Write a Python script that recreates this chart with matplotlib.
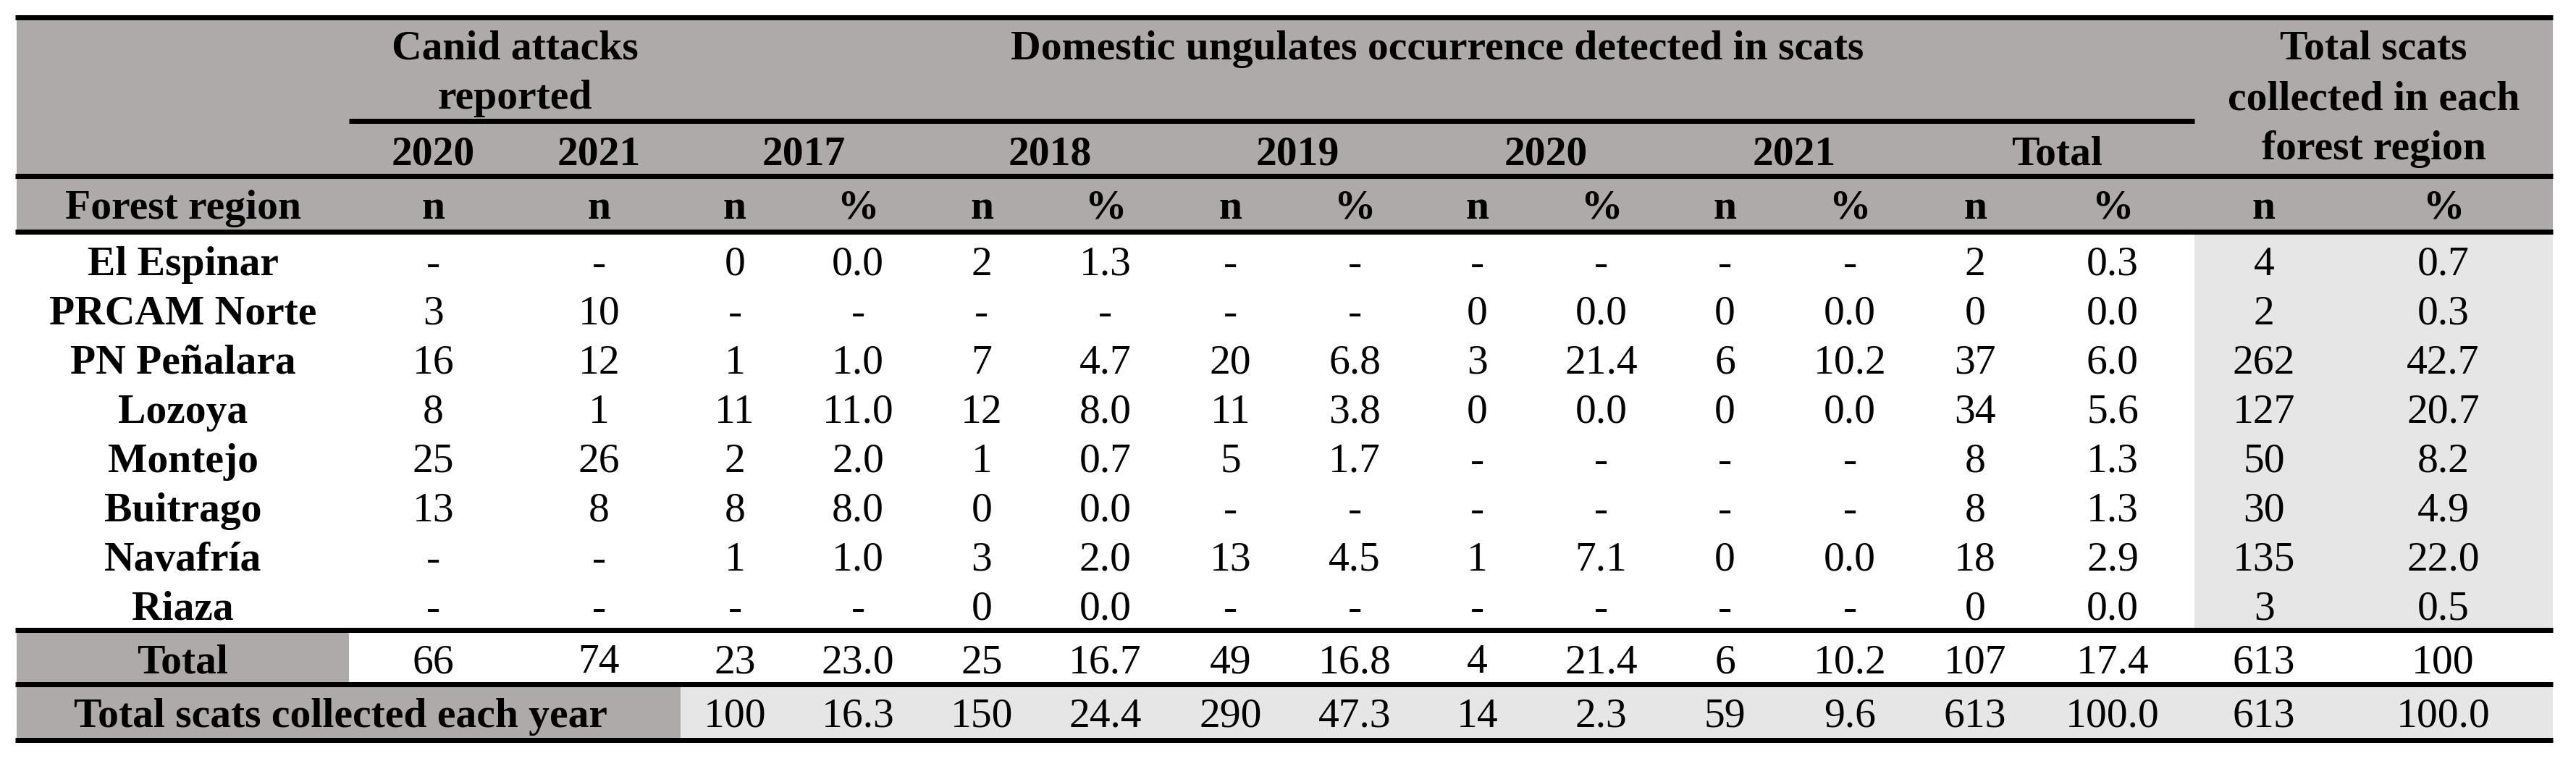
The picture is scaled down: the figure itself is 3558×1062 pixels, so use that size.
import matplotlib.pyplot as plt
from matplotlib.patches import Rectangle

plt.rcParams['font.family'] = ['Liberation Serif', 'DejaVu Serif']

# table content
regions = ['El Espinar', 'PRCAM Norte', 'PN Peñalara', 'Lozoya',
           'Montejo', 'Buitrago', 'Navafría', 'Riaza']
canid_years = ['2020', '2021']
scat_years = ['2017', '2018', '2019', '2020', '2021', 'Total']

# columns: canid 2020, canid 2021, then n/% pairs for 2017..2021, Total, total scats
rows = [
    ['-', '-', '0', '0.0', '2', '1.3', '-', '-', '-', '-', '-', '-', '2', '0.3', '4', '0.7'],
    ['3', '10', '-', '-', '-', '-', '-', '-', '0', '0.0', '0', '0.0', '0', '0.0', '2', '0.3'],
    ['16', '12', '1', '1.0', '7', '4.7', '20', '6.8', '3', '21.4', '6', '10.2', '37', '6.0', '262', '42.7'],
    ['8', '1', '11', '11.0', '12', '8.0', '11', '3.8', '0', '0.0', '0', '0.0', '34', '5.6', '127', '20.7'],
    ['25', '26', '2', '2.0', '1', '0.7', '5', '1.7', '-', '-', '-', '-', '8', '1.3', '50', '8.2'],
    ['13', '8', '8', '8.0', '0', '0.0', '-', '-', '-', '-', '-', '-', '8', '1.3', '30', '4.9'],
    ['-', '-', '1', '1.0', '3', '2.0', '13', '4.5', '1', '7.1', '0', '0.0', '18', '2.9', '135', '22.0'],
    ['-', '-', '-', '-', '0', '0.0', '-', '-', '-', '-', '-', '-', '0', '0.0', '3', '0.5'],
]
total_row = ['66', '74', '23', '23.0', '25', '16.7', '49', '16.8', '4', '21.4',
             '6', '10.2', '107', '17.4', '613', '100']
year_row = ['100', '16.3', '150', '24.4', '290', '47.3', '14', '2.3', '59', '9.6',
            '613', '100.0', '613', '100.0']
sub_heads = ['n', 'n'] + ['n', '%'] * 7

# layout (pixels)
W, H = 3558, 1062
edges = [23, 482, 715, 940, 1090, 1280, 1432, 1621, 1778, 1964, 2117, 2306,
         2459, 2651, 2805, 3031, 3223, 3526]
gray = '#AEAAAA'
light = '#E7E6E6'
fs = 41.5

fig = plt.figure(figsize=(W / 100, H / 100), dpi=100)
ax = fig.add_axes([0, 0, 1, 1])
ax.set_xlim(0, W)
ax.set_ylim(H, 0)
ax.axis('off')

def rect(x0, x1, y0, y1, c):
    ax.add_patch(Rectangle((x0, y0), x1 - x0, y1 - y0, color=c, lw=0, zorder=0))

def txt(x, y, s, bold=False):
    ax.text(x, y, s, ha='center', va='baseline', fontsize=fs,
            fontweight='bold' if bold else 'normal', zorder=3)

def mid(i, j=None):
    j = i + 1 if j is None else j
    return (edges[i] + edges[j]) / 2

# fills
rect(23, 3526, 24, 320, gray)
rect(edges[15], 3526, 320, 869, light)
rect(23, edges[1], 869, 945, gray)
rect(23, edges[3], 945, 1022, gray)
rect(edges[3], 3526, 945, 1022, light)

# rules
lw = 7 * 72 / 100
for y in [23.5, 243, 319.5, 869.5, 944.5, 1022]:
    ax.plot([21, 3526], [y, y], color='black', lw=lw, solid_capstyle='butt', zorder=2)
ax.plot([edges[1], edges[15]], [166.5, 166.5], color='black', lw=lw,
        solid_capstyle='butt', zorder=2)

# header row 1
txt(mid(1, 3), 82, 'Canid attacks', True)
txt(mid(1, 3), 150, 'reported', True)
txt(mid(3, 15), 82, 'Domestic ungulates occurrence detected in scats', True)
txt(mid(15, 17), 82, 'Total scats', True)
txt(mid(15, 17), 152, 'collected in each', True)
txt(mid(15, 17), 220, 'forest region', True)

# header row 2: years
for k, yr in enumerate(canid_years):
    txt(mid(1 + k), 227, yr, True)
for k, yr in enumerate(scat_years):
    txt(mid(3 + 2 * k, 5 + 2 * k), 227, yr, True)

# header row 3
txt(mid(0), 302, 'Forest region', True)
for k, s in enumerate(sub_heads):
    txt(mid(1 + k), 302, s, True)

# body
for r, (name, vals) in enumerate(zip(regions, rows)):
    yb = 380 + 68 * r
    txt(mid(0), yb, name, True)
    for k, v in enumerate(vals):
        txt(mid(1 + k), yb, v)

# totals
txt(mid(0), 929, 'Total', True)
for k, v in enumerate(total_row):
    txt(mid(1 + k), 929, v)

txt(470, 1004, 'Total scats collected each year', True)
for k, v in enumerate(year_row):
    txt(mid(3 + k), 1004, v)

fig.savefig('out.png', dpi=100)
